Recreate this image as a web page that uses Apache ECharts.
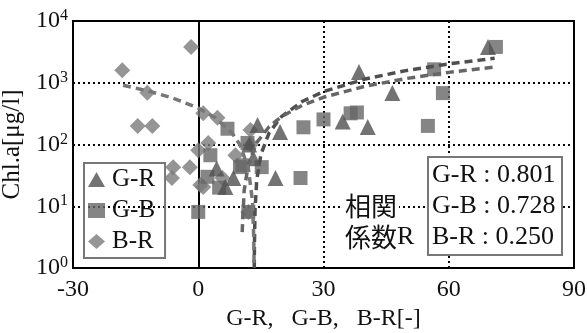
<!DOCTYPE html>
<html><head><meta charset="utf-8">
<script src="https://cdn.jsdelivr.net/npm/echarts@6/dist/echarts.min.js"></script>
<style>html,body{margin:0;padding:0;background:#fff}#c{width:587px;height:333px}</style>
</head><body><div id="c"></div>
<script>
// ---- data ----
const xTicks = [-30, 0, 30, 60, 90];
const gr = [[38.5,1500],[46.5,680],[69.4,3800],[34.6,235],[40.6,192],[19.6,159],[14.2,207],
  [18.5,28.7],[8.4,28.7],[4.4,41],[6.5,20.5],[12.2,100],[13.2,60]];
const gb = [[71.3,3800],[56.5,1650],[58.6,680],[55,200],[36.5,320],[38,330],[30,255],[25.2,190],
  [24.5,28.7],[7,180],[11.8,106],[10.6,46],[15.2,43],[2.9,67],[2.2,30],[5,20],[0,8.1],[12,8.1],[10,43]];
const br = [[-18.2,1600],[-1.7,3800],[-12.2,690],[-14.5,200],[-11,200],[1.2,320],[4.6,270],[12.5,172],
  [2.4,106],[0,81],[-2,43],[-6,43],[-6.3,28.7],[0.5,22],[5.8,28.7],[1.2,20.5],[8.9,67],[12,8.1],[12.6,100]];
const grFit = [[13.42,1],[13.45,2.2],[13.6,8.7],[14,26],[15,69],[17,156],[20,286],[25,502],[30,719],
  [40,1152],[50,1585],[60,2018],[71,2494]];
const gbFit = [[10.52,3.8],[11,18],[12,48],[14,107],[17,196],[20,285],[25,434],[30,582],[40,879],
  [50,1176],[60,1473],[71,1800]];
const brFit = [[-18,910],[-12,736],[-6,562],[0,389],[4,273],[8,157],[10,99],[12,41],[13,12],[13.3,3],[13.38,1]];
const corrNames = ['G-R','G-B','B-R'];
const corrVals = ['0.801','0.728','0.250'];

const chart = echarts.init(document.getElementById('c'));
const serif = '"Liberation Serif","DejaVu Serif",serif';
const fitStyle = (c)=>({type:'line',data:null,showSymbol:false,symbol:'none',z:5,
  lineStyle:{color:c,width:3.5,type:[8,5]},silent:true});
const s1 = fitStyle('#4f4f4f'); s1.name='grFit'; s1.data=grFit;
const s2 = fitStyle('#666'); s2.name='gbFit'; s2.data=gbFit;
const s3 = fitStyle('#777'); s3.name='brFit'; s3.data=brFit;
chart.setOption({
  animation:false,
  grid:{left:73,right:13,top:21,bottom:65,show:true,borderColor:'#000',borderWidth:2,
    containLabel:false,outerBoundsMode:'none'},
  xAxis:{type:'value',min:-30,max:90,interval:30,
    name:'G-R,   G-B,   B-R[-]',nameLocation:'middle',nameGap:35,
    nameTextStyle:{fontFamily:serif,fontSize:24,color:'#111'},
    axisLine:{lineStyle:{color:'#000',width:2}},axisTick:{show:false},
    axisLabel:{fontFamily:serif,fontSize:24,color:'#111',margin:10,
      formatter:v=>xTicks.includes(v)?String(v):''},
    splitLine:{show:true,lineStyle:{color:'#000',width:2,type:[2,3]}}},
  yAxis:{type:'log',min:1,max:10000,logBase:10,
    name:'Chl.a[μg/l]',nameLocation:'middle',nameGap:28,nameRotate:90,
    nameTextStyle:{fontFamily:serif,fontSize:25,color:'#111'},
    axisLine:{lineStyle:{color:'#000',width:2}},axisTick:{show:false},
    axisLabel:{margin:5,formatter:v=>'{b|10}{s|'+Math.round(Math.log10(v))+'}',
      rich:{b:{fontFamily:serif,fontSize:24,color:'#111'},
            s:{fontFamily:serif,fontSize:16,color:'#111',verticalAlign:'top',padding:[0,0,10,0]}}},
    splitLine:{show:true,lineStyle:{color:'#000',width:2,type:[2,3]}}},
  legend:{data:['G-R','G-B','B-R'],orient:'vertical',left:84,top:163,
    borderColor:'#777',borderWidth:2,padding:[4,10,4,4],itemGap:6,itemWidth:17,itemHeight:15,
    textStyle:{fontFamily:serif,fontSize:25,color:'#111',padding:[0,0,0,2]}},
  series:[
    {type:'scatter',name:'B-R',data:br,symbol:'diamond',symbolSize:16,itemStyle:{color:'#7a7a7a'},z:2},
    {type:'scatter',name:'G-B',data:gb,symbol:'rect',symbolSize:14,itemStyle:{color:'#666'},z:3},
    {type:'scatter',name:'G-R',data:gr,symbol:'triangle',symbolSize:16,itemStyle:{color:'#505050'},z:4},
    s1,s2,s3
  ],
  graphic:[
    {type:'rect',shape:{x:428,y:157,width:134,height:98},style:{fill:'#fff',stroke:'#777',lineWidth:2},z:10},
    ...corrNames.map((n,i)=>({type:'text',left:432,top:162+i*31,z:11,
      style:{text:n+' : '+corrVals[i],font:'26px '+serif,fill:'#111'}})),
    {type:'text',left:343,top:193,z:11,
      style:{text:'相関',font:'26px "Noto Sans CJK JP"',fill:'#111',backgroundColor:'#fff',padding:[0,2,0,2]}},
    {type:'text',left:343,top:224,z:11,
      style:{text:'係数',font:'26px "Noto Sans CJK JP"',fill:'#111',backgroundColor:'#fff',padding:[0,0,0,2]}},
    {type:'text',left:397,top:224,z:11,
      style:{text:'R',font:'26px '+serif,fill:'#111'}}
  ]
});
</script></body></html>
